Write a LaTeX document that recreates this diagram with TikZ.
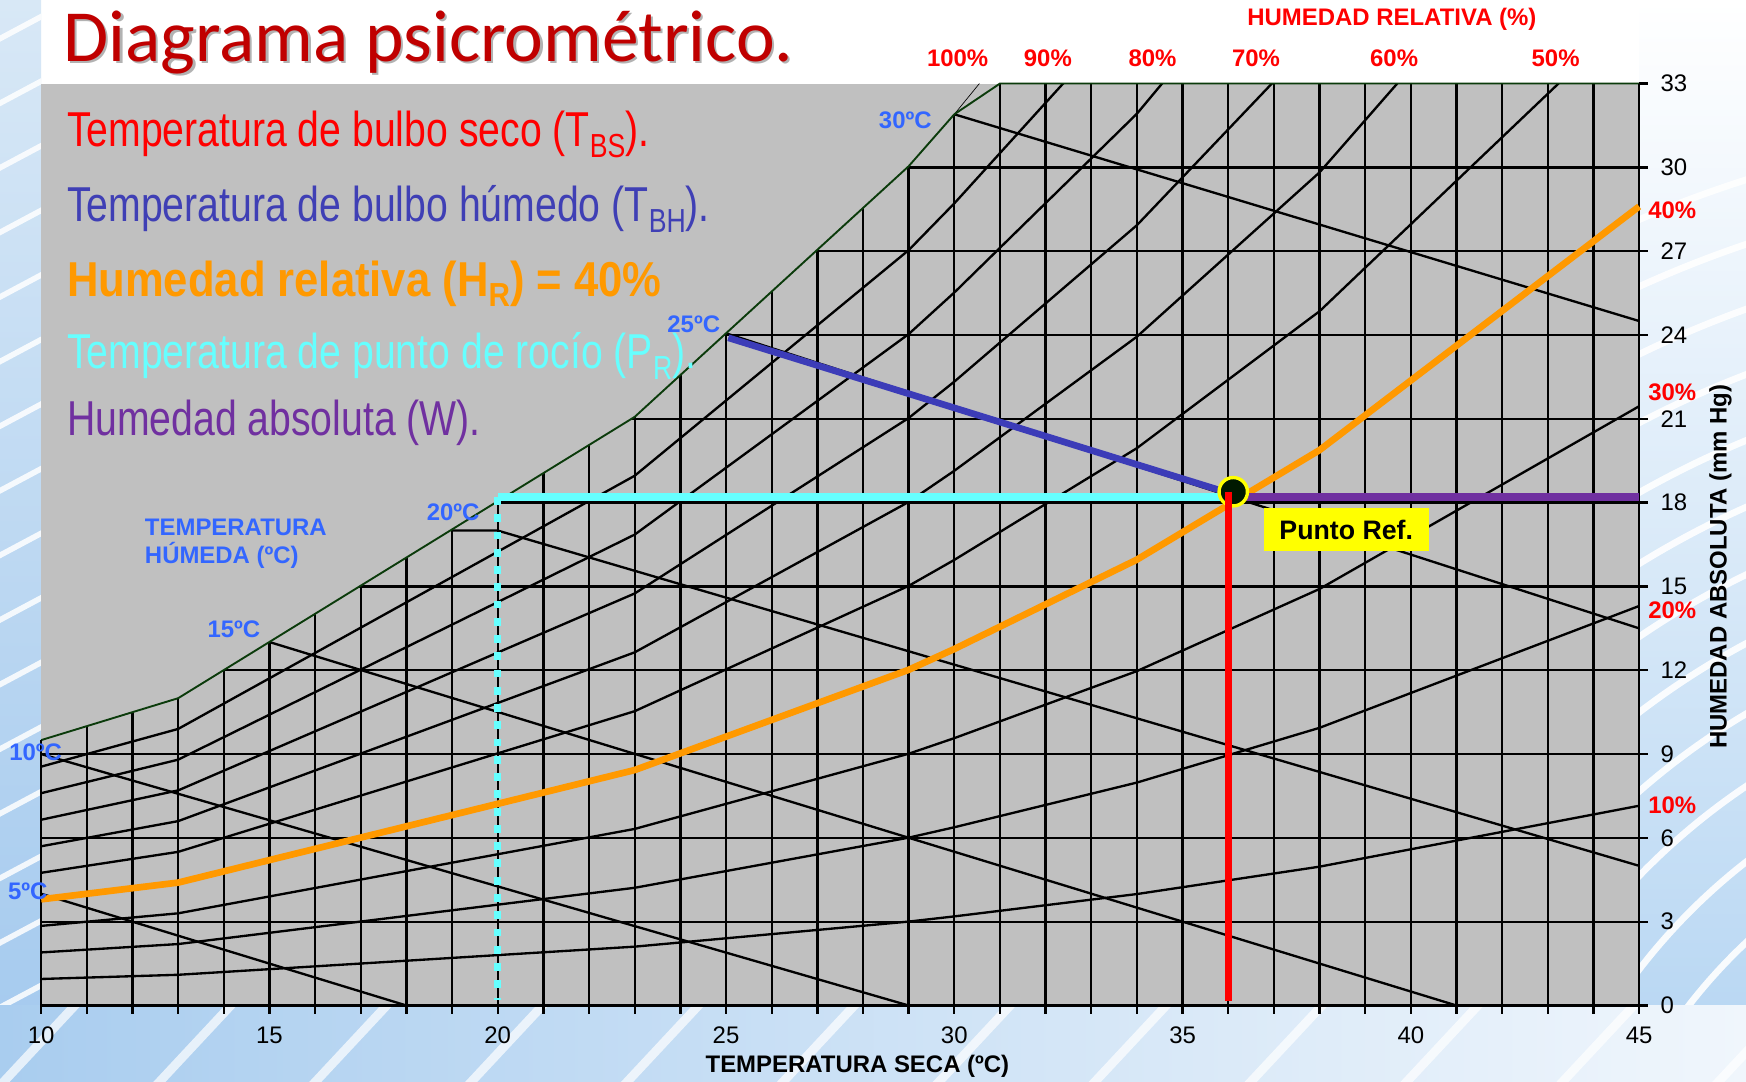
\documentclass[tikz,border=0pt]{standalone}
\usepackage{fontspec}
\setmainfont{Liberation Sans}
\newfontfamily\narrowf[FakeStretch=0.8]{Liberation Sans}
\newfontfamily\narrowbf[FakeStretch=0.89]{Liberation Sans Bold}
\newfontfamily\titlef{Carlito}
\definecolor{chartgray}{HTML}{C0C0C0}
\definecolor{bgreen}{HTML}{0B3B0B}
\definecolor{wbblue}{HTML}{3366FF}
\definecolor{tbhblue}{HTML}{3F3FB5}
\definecolor{bhline}{HTML}{3C3CB8}
\definecolor{hrorange}{HTML}{FF9900}
\definecolor{prcyan}{HTML}{66FFFF}
\definecolor{wpurple}{HTML}{7030A0}
\definecolor{titlered}{HTML}{C00000}
\definecolor{ptyellow}{HTML}{FFFF00}
\definecolor{bgtop}{HTML}{D8E8F6}
\definecolor{bgmid}{HTML}{4A88D0}
\definecolor{bgbot}{HTML}{A3C9EE}
\definecolor{rblue}{HTML}{7FB0E0}
\definecolor{rblue2}{HTML}{B5D5F2}
\definecolor{bbl}{HTML}{A9CDEF}
\definecolor{bbr}{HTML}{F0F6FC}
\newcommand\sbx[1]{\raisebox{-0.22em}{\scalebox{0.68}{#1}}}
\tikzset{
  gridline/.style={line width=2.1pt, black},
  thickln/.style={line width=6pt},
  axisnum/.style={font=\fontsize{21.5}{21.5}\selectfont, inner sep=0pt},
  boldlab/.style={font=\bfseries\fontsize{21.5}{21.5}\selectfont, inner sep=0pt},
  wblabel/.style={boldlab, text=wbblue},
  rhlabel/.style={boldlab, text=red},
  legendtxt/.style={anchor=base west, inner sep=0pt, font=\narrowf\fontsize{44}{44}\selectfont},
}
\begin{document}
\begin{tikzpicture}[x=1pt,y=-1pt]
\useasboundingbox (0,0) rectangle (1568,971);
% ---------- background ----------
\fill[white] (0,0) rectangle (1568,971);
\begin{scope}
  \clip (0,0) rectangle (37,971);
  \shade[top color=bgtop, middle color=bgmid, bottom color=bgbot] (0,0) rectangle (37,971);
  \foreach \i in {0,...,16} \draw[white, line width=5pt, opacity=0.85] (-10,{40+\i*58}) -- (50,{8+\i*58});
\end{scope}
\begin{scope}
  \clip (1472,0) rectangle (1568,971);
  \shade[top color=white, middle color=rblue, bottom color=rblue2] (1472,0) rectangle (1568,971);
  \foreach \r in {320,375,...,1100} \draw[white, line width=6pt, opacity=0.9] (1900,1200) circle[radius=\r];
\end{scope}
\begin{scope}
  \clip (0,903) rectangle (1568,971);
  \shade[left color=bbl, right color=bbr] (0,903) rectangle (1568,971);
  \foreach \i in {0,...,11} \draw[white, line width=8pt, opacity=0.7] ({\i*140},975) -- ({\i*140+70},900);
\end{scope}
% ---------- chart area ----------
\fill[chartgray] (37,75) rectangle (1472,903);
\begin{scope}[shift={(37,903)}, x=41pt, y=25.09pt]
  \begin{scope}
    \clip (0,0) -- (0,9.5) -- (3,11) -- (13,21.07) -- (19,30.04) -- (20,31.9) -- (21,33) -- (35,33) -- (35,0) -- cycle;
    \foreach \t in {1,...,34} \draw[gridline] (\t,0) -- (\t,33);
    \foreach \w in {3,6,...,30} \draw[gridline] (0,\w) -- (35,\w);
    \foreach \r in {1,...,9}
      \draw[gridline] (0,{0.95*\r}) -- (3,{1.1*\r}) -- (13,{2.107*\r}) -- (19,{3.004*\r})
        -- (20,{3.19*\r}) -- (24,{3.99*\r}) -- (28,{4.97*\r}) -- (35,{7.15*\r});
    % wet-bulb lines
    \draw[gridline] (0,4.0) -- (8,0);
    \draw[gridline] (0,9.0) -- (19,0);
    \draw[gridline] (5,13.01) -- (31,0);
    \draw[gridline] (9,17.0) -- (10,17.0) -- (35,5.0);
    \draw[gridline] (15,24.06) -- (35,13.5);
    \draw[gridline] (20,31.9) -- (35,24.5);
  \end{scope}
  % 100 % continuation and saturation boundary
  \draw[black, line width=0.6pt] (20,31.9) -- (20.55,33);
  \draw[bgreen, line width=1.7pt, line join=round] (0,9.5) -- (3,11) -- (13,21.07) -- (19,30.04) -- (20,31.9) -- (21,33) -- (35,33);
  % axes
  \draw[gridline] (0,9.5) -- (0,0) -- (35,0) -- (35,33);
  \foreach \t in {0,...,35} \draw[gridline] (\t,0) -- ++(0pt,-8pt);
  \foreach \w in {0,3,...,33} \draw[gridline] (35,\w) -- ++(8pt,0pt);
  % coordinates of the reference construction
  \coordinate (bhstart) at (15.05,23.9);
  \coordinate (dpstart) at (10,18.2);
  \coordinate (dpend) at (26,18.2);
  \coordinate (dpbot) at (10,0.2);
  \coordinate (wend) at (35,18.2);
  \coordinate (wstart) at (26,18.2);
  \coordinate (redtop) at (26,18.39);
  \coordinate (redbot) at (26,0.15);
  \coordinate (bhend) at (26,18.35);
  % HR 40 %
  \draw[thickln, hrorange, line join=round] (0,3.8) -- (3,4.4) -- (13,8.428) -- (19,12.016)
      -- (20,12.76) -- (24,15.96) -- (28,19.88) -- (35,28.6);
  % dew point
  \draw[line width=6.5pt, prcyan] (dpstart) -- (dpend);
  \draw[line width=6.5pt, prcyan, dash pattern=on 7pt off 8.5pt] (dpstart) -- (dpbot);
  % wet bulb
  \draw[thickln, bhline] (bhstart) -- (bhend);
  % absolute humidity
  \draw[line width=6.5pt, wpurple] (wstart) -- (wend);
  % reference point
  \node[circle, fill=black!90!green, draw=ptyellow, line width=3pt, minimum size=25.5pt, inner sep=0pt] (pt) at (26.11,18.39) {};
  \draw[thickln, red] (redtop) -- (redbot);
\end{scope}
% ---------- axis labels ----------
\foreach \v/\xx in {10/37,15/242,20/447,25/652,30/857,35/1062,40/1267,45/1472}
  \node[axisnum] (bx\v) at (\xx,930) {\v};
\foreach \w in {0,3,...,33}
  \node[axisnum, anchor=west] (ry\w) at (1491,{903-\w*25.09}) {\w};
\node[boldlab] (xtitle) at (770,958) {TEMPERATURA SECA (ºC)};
\node[boldlab, rotate=90] (ytitle) at (1545,509) {HUMEDAD ABSOLUTA (mm Hg)};
\node[rhlabel] (hrtitle) at (1250,17) {HUMEDAD RELATIVA (\%)};
\node[rhlabel] (rh100) at (860,52) {100\%};
\node[rhlabel] (rh90) at (941,52) {90\%};
\node[rhlabel] (rh80) at (1035,52) {80\%};
\node[rhlabel] (rh70) at (1128,52) {70\%};
\node[rhlabel] (rh60) at (1252,52) {60\%};
\node[rhlabel] (rh50) at (1397,52) {50\%};
\node[rhlabel, anchor=west] (rh40) at (1480,189) {40\%};
\node[rhlabel, anchor=west] (rh30) at (1480,352) {30\%};
\node[rhlabel, anchor=west] (rh20) at (1480,548) {20\%};
\node[rhlabel, anchor=west] (rh10) at (1480,723) {10\%};
% wet-bulb temperature labels
\node[wblabel] (wb30) at (813,108) {30ºC};
\node[wblabel] (wb25) at (623,291) {25ºC};
\node[wblabel] (wb20) at (407,460) {20ºC};
\node[wblabel] (wb15) at (210,565) {15ºC};
\node[wblabel] (wb10) at (32,676) {10ºC};
\node[wblabel] (wb5) at (25,800) {5ºC};
\node[wblabel, anchor=west] (th1) at (130,474) {TEMPERATURA};
\node[wblabel, anchor=west] (th2) at (130,499) {HÚMEDA (ºC)};
% reference point label
\node[fill=ptyellow, minimum width=148pt, minimum height=39pt, inner sep=0pt,
      font=\bfseries\fontsize{24}{24}\selectfont] (pref) at (1209,475.5) {Punto Ref.};
% ---------- legend ----------
\node[legendtxt, text=red] (l1) at (60,132) {Temperatura de bulbo seco (T\sbx{BS}).};
\node[legendtxt, text=tbhblue] (l2) at (60,199) {Temperatura de bulbo húmedo (T\sbx{BH}).};
\node[legendtxt, text=hrorange, font=\narrowbf\fontsize{44}{44}\selectfont] (l3) at (60,266) {Humedad relativa (H\sbx{R}) = 40\%};
\node[legendtxt, text=prcyan] (l4) at (60,331) {Temperatura de punto de rocío (P\sbx{R}).};
\node[legendtxt, text=wpurple] (l5) at (60,391) {Humedad absoluta (W).};
% ---------- title ----------
\node[anchor=base west, inner sep=0pt, text=black!30, font=\titlef\fontsize{66}{66}\selectfont] (tshadow) at (59,57) {Diagrama psicrométrico.};
\node[anchor=base west, inner sep=0pt, text=titlered, font=\titlef\fontsize{66}{66}\selectfont] (title) at (57,55) {Diagrama psicrométrico.};
\end{tikzpicture}
\end{document}
